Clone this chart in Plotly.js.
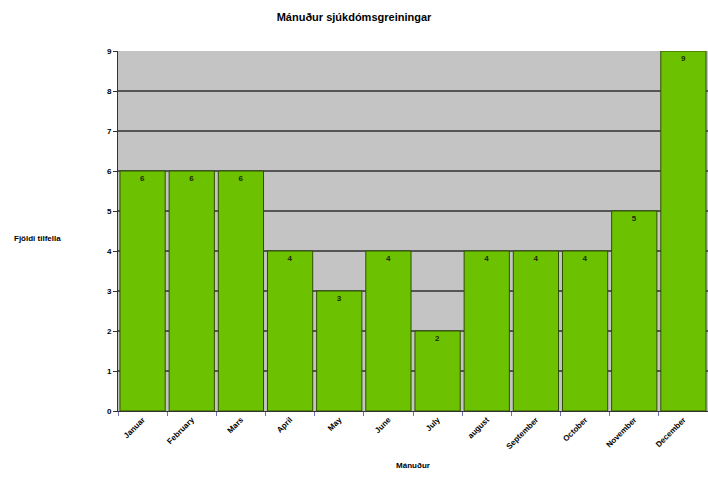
<!DOCTYPE html>
<html>
<head>
<meta charset="utf-8">
<script src="https://cdn.plot.ly/plotly-3.0.1.min.js"></script>
<style>html,body{margin:0;padding:0;background:#fff;}#chart{width:708px;height:477px;}</style>
</head>
<body>
<div id="chart"></div>
<script>
const months = ["Januar","February","Mars","April","May","June","July","august","September","October","November","December"];
const counts = [6,6,6,4,3,4,2,4,4,4,5,9];
const yTicks = [0,1,2,3,4,5,6,7,8,9];
const chartTitle = "Mánuður sjúkdómsgreiningar";
const xTitle = "Mánuður";
const yTitle = "Fjöldi tilfella";

const trace = {
  type: "bar",
  x: months,
  y: counts,
  text: counts.map(v => "<b>" + v + "</b>"),
  textposition: "inside",
  insidetextanchor: "end",
  textangle: 0,
  textfont: {family: "Arial, Liberation Sans, sans-serif", size: 8, color: "#1a2a00"},
  marker: {color: "#6cc200", line: {color: "#2f4f00", width: 1}},
  cliponaxis: false,
  hoverinfo: "none"
};

const layout = {
  width: 708, height: 477,
  margin: {l: 118, r: 0, t: 51, b: 66},
  paper_bgcolor: "#ffffff",
  plot_bgcolor: "#c4c4c4",
  bargap: 0.08,
  showlegend: false,
  font: {family: "Arial, Liberation Sans, sans-serif", color: "#000"},
  title: {text: "<b>" + chartTitle + "</b>", font: {size: 11, color: "#000"}, x: 0.5, xanchor: "center", y: 0.965, yanchor: "middle"},
  xaxis: {
    type: "category",
    tickangle: -45,
    tickson: "boundaries",
    ticks: "outside", ticklen: 4, tickcolor: "#7070b0",
    tickvals: months,
    ticktext: months.map(m => "<b>" + m + "</b>"),
    tickfont: {size: 8, color: "#000"},
    showline: true, linecolor: "#333", linewidth: 1,
    showgrid: false,
    title: {text: "<b>" + xTitle + "</b>", font: {size: 8}, standoff: 12}
  },
  yaxis: {
    range: [0, 9],
    tickvals: yTicks,
    ticktext: yTicks.map(v => "<b>" + v + "</b>"),
    ticks: "outside", ticklen: 4, tickcolor: "#333",
    tickfont: {size: 8, color: "#000"},
    showline: true, linecolor: "#333", linewidth: 1,
    gridcolor: "#555555", gridwidth: 1.5,
    zeroline: false
  },
  annotations: [{
    text: "<b>" + yTitle + "</b>",
    xref: "paper", yref: "paper",
    x: -0.136, y: 0.48, xanchor: "center", yanchor: "middle",
    showarrow: false, font: {size: 8, color: "#000"}
  }]
};

Plotly.newPlot("chart", [trace], layout, {staticPlot: true, displayModeBar: false});
</script>
</body>
</html>
